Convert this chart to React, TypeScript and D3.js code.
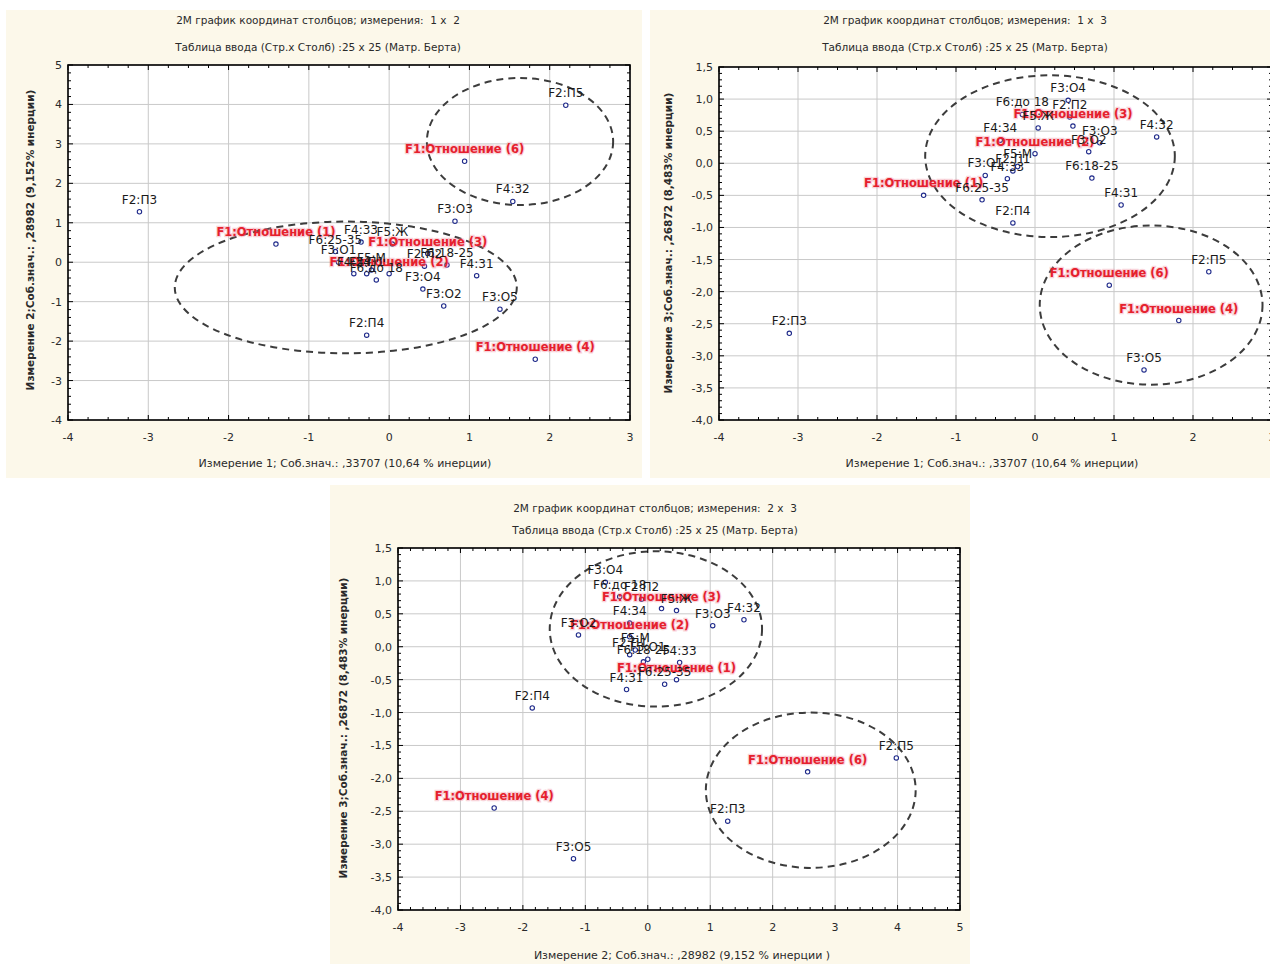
import React from "react";
import * as d3 from "d3";

// Column categories of the Burt table and their principal coordinates
const categories = [
  "F1:Отношение (1)", "F1:Отношение (2)", "F1:Отношение (3)", "F1:Отношение (4)", "F1:Отношение (6)",
  "F2:П1", "F2:П2", "F2:П3", "F2:П4", "F2:П5",
  "F3:О1", "F3:О2", "F3:О3", "F3:О4", "F3:О5",
  "F4:31", "F4:32", "F4:33", "F4:34",
  "F5:М", "F5:Ж",
  "F6:до 18", "F6:18-25", "F6:25-35",
];
const dim1 = [
  -1.41, 0.0, 0.48, 1.82, 0.94,
  -0.28, 0.44, -3.11, -0.28, 2.2,
  -0.63, 0.68, 0.82, 0.42, 1.38,
  1.09, 1.54, -0.35, -0.44,
  -0.22, 0.04,
  -0.16, 0.72, -0.67,
];
const dim2 = [
  0.46, -0.29, 0.22, -2.46, 2.56,
  -0.29, -0.1, 1.28, -1.85, 3.98,
  0.0, -1.11, 1.04, -0.68, -1.19,
  -0.34, 1.54, 0.51, -0.29,
  -0.2, 0.46,
  -0.45, -0.07, 0.27,
];
const dim3 = [
  -0.5, 0.15, 0.58, -2.45, -1.9,
  -0.12, 0.72, -2.65, -0.93, -1.69,
  -0.19, 0.18, 0.32, 0.98, -3.22,
  -0.65, 0.41, -0.24, 0.36,
  -0.05, 0.55,
  0.76, -0.23, -0.57,
];

const dims = { 1: dim1, 2: dim2, 3: dim3 } as Record<number, number[]>;

const tableTitle = "Таблица ввода (Стр.x Столб) :25 x 25 (Матр. Берта)";
const dimTitle1 = "Измерение 1; Соб.знач.: ,33707 (10,64 % инерции)";
const dimTitle2x = "Измерение 2; Соб.знач.: ,28982 (9,152 % инерции )";
const dimTitle2y = "Измерение 2;Соб.знач.: ,28982 (9,152% инерции)";
const dimTitle3y = "Измерение 3;Соб.знач.: ,26872 (8,483% инерции)";

type Ellipse = { cx: number; cy: number; rx: number; ry: number };
type Panel = {
  xDim: number;
  yDim: number;
  title: string;
  xTitle: string;
  yTitle: string;
  xDomain: [number, number];
  yDomain: [number, number];
  xStep: number;
  yStep: number;
  xMinor: number;
  yMinor: number;
  yDecimals: number;
  bg: { x: number; y: number; w: number; h: number };
  plot: { x0: number; y0: number; x1: number; y1: number };
  titleX: number;
  t1y: number;
  t2y: number;
  xTitleX: number;
  xTitleY: number;
  yTitleX: number;
  yTitleY: number;
  ellipses: Ellipse[];
};

const panels: Panel[] = [
  {
    xDim: 1, yDim: 2,
    title: "2M график координат столбцов; измерения:  1 x  2",
    xTitle: dimTitle1, yTitle: dimTitle2y,
    xDomain: [-4, 3], yDomain: [-4, 5], xStep: 1, yStep: 1, xMinor: 0.25, yMinor: 0.2, yDecimals: 0,
    bg: { x: 6, y: 10, w: 636, h: 468 },
    plot: { x0: 68, y0: 65, x1: 630, y1: 420 },
    titleX: 318, t1y: 24, t2y: 51, xTitleX: 345, xTitleY: 467, yTitleX: 30, yTitleY: 240,
    ellipses: [
      { cx: 1.63, cy: 3.06, rx: 1.16, ry: 1.61 },
      { cx: -0.54, cy: -0.64, rx: 2.13, ry: 1.67 },
    ],
  },
  {
    xDim: 1, yDim: 3,
    title: "2M график координат столбцов; измерения:  1 x  3",
    xTitle: dimTitle1, yTitle: dimTitle3y,
    xDomain: [-4, 3], yDomain: [-4, 1.5], xStep: 1, yStep: 0.5, xMinor: 0.25, yMinor: 0.1, yDecimals: 1,
    bg: { x: 650, y: 10, w: 620, h: 468 },
    plot: { x0: 719, y0: 67, x1: 1272, y1: 420 },
    titleX: 965, t1y: 24, t2y: 51, xTitleX: 992, xTitleY: 467, yTitleX: 668, yTitleY: 243,
    ellipses: [
      { cx: 0.19, cy: 0.11, rx: 1.58, ry: 1.26 },
      { cx: 1.47, cy: -2.21, rx: 1.41, ry: 1.24 },
    ],
  },
  {
    xDim: 2, yDim: 3,
    title: "2M график координат столбцов; измерения:  2 x  3",
    xTitle: dimTitle2x, yTitle: dimTitle3y,
    xDomain: [-4, 5], yDomain: [-4, 1.5], xStep: 1, yStep: 0.5, xMinor: 0.2, yMinor: 0.1, yDecimals: 1,
    bg: { x: 330, y: 485, w: 640, h: 479 },
    plot: { x0: 398, y0: 548, x1: 960, y1: 910 },
    titleX: 655, t1y: 512, t2y: 534, xTitleX: 682, xTitleY: 959, yTitleX: 343, yTitleY: 728,
    ellipses: [
      { cx: 0.13, cy: 0.27, rx: 1.7, ry: 1.18 },
      { cx: 2.61, cy: -2.18, rx: 1.68, ry: 1.18 },
    ],
  },
];

const FONT = "'DejaVu Sans', Verdana, sans-serif";
const CREAM = "#fcf8ea";

function fmt(v: number, decimals: number) {
  return d3.format(`.${decimals}f`)(v).replace(".", ",").replace("−", "-");
}

function ScatterPanel({ p, idx }: { p: Panel; idx: number }) {
  const x = d3.scaleLinear().domain(p.xDomain).range([p.plot.x0, p.plot.x1]);
  const y = d3.scaleLinear().domain(p.yDomain).range([p.plot.y1, p.plot.y0]);
  const eps = 1e-9;
  const xMajor = d3.range(p.xDomain[0], p.xDomain[1] + eps, p.xStep);
  const yMajor = d3.range(p.yDomain[0], p.yDomain[1] + eps, p.yStep);
  const xMinorT = d3.range(p.xDomain[0], p.xDomain[1] + eps, p.xMinor);
  const yMinorT = d3.range(p.yDomain[0], p.yDomain[1] + eps, p.yMinor);
  const xs = dims[p.xDim];
  const ys = dims[p.yDim];
  const { x0, y0, x1, y1 } = p.plot;
  const clipId = `clip-${idx}`;
  const isMajor = (v: number, step: number) => Math.abs(v / step - Math.round(v / step)) < 1e-6;

  return (
    <g>
      <rect x={p.bg.x} y={p.bg.y} width={p.bg.w} height={p.bg.h} fill={CREAM} />
      <text x={p.titleX} y={p.t1y} textAnchor="middle" fontSize={10.5} fill="#2a2a2a" style={{ whiteSpace: "pre" }}>
        {p.title}
      </text>
      <text x={p.titleX} y={p.t2y} textAnchor="middle" fontSize={10.5} fill="#2a2a2a" style={{ whiteSpace: "pre" }}>
        {tableTitle}
      </text>
      <defs>
        <clipPath id={clipId}>
          <rect x={x0} y={y0} width={x1 - x0} height={y1 - y0} />
        </clipPath>
      </defs>
      <rect x={x0} y={y0} width={x1 - x0} height={y1 - y0} fill="#fff" />
      {/* grid */}
      {xMajor.map((v) => (
        <line key={`gx${v}`} x1={x(v)} x2={x(v)} y1={y0} y2={y1} stroke="#c9c9c9" strokeWidth={1} />
      ))}
      {yMajor.map((v) => (
        <line key={`gy${v}`} x1={x0} x2={x1} y1={y(v)} y2={y(v)} stroke="#c9c9c9" strokeWidth={1} />
      ))}
      {/* group outlines */}
      <g clipPath={`url(#${clipId})`}>
        {p.ellipses.map((e, i) => (
          <ellipse
            key={`el${i}`}
            cx={x(e.cx)}
            cy={y(e.cy)}
            rx={Math.abs(x(e.cx + e.rx) - x(e.cx))}
            ry={Math.abs(y(e.cy + e.ry) - y(e.cy))}
            fill="none"
            stroke="#3c3c3c"
            strokeWidth={2}
            strokeDasharray="7 5"
          />
        ))}
      </g>
      {/* points */}
      {categories.map((c, i) => (
        <circle key={`pt${i}`} cx={x(xs[i])} cy={y(ys[i])} r={2.2} fill="#fff" stroke="#1f2a8a" strokeWidth={1.1} />
      ))}
      {/* labels */}
      {categories.map((c, i) => {
        const red = c.startsWith("F1");
        return (
          <text
            key={`lb${i}`}
            x={x(xs[i])}
            y={y(ys[i]) - 8}
            textAnchor="middle"
            fontSize={red ? 11.5 : 12}
            fontWeight={red ? "bold" : "normal"}
            fill={red ? "#e5202d" : "#1a1a1a"}
            stroke={red ? "rgba(240,130,150,0.35)" : "none"}
            strokeWidth={red ? 2.5 : 0}
            style={{ paintOrder: "stroke" }}
          >
            {c}
          </text>
        );
      })}
      {/* frame */}
      <rect x={x0} y={y0} width={x1 - x0} height={y1 - y0} fill="none" stroke="#000" strokeWidth={1.6} />
      {/* ticks on all four sides */}
      {xMinorT.map((v) => {
        const len = isMajor(v, p.xStep) ? 5 : 3;
        return (
          <g key={`tx${v}`}>
            <line x1={x(v)} x2={x(v)} y1={y1} y2={y1 - len} stroke="#000" strokeWidth={1} />
            <line x1={x(v)} x2={x(v)} y1={y0} y2={y0 + len} stroke="#000" strokeWidth={1} />
          </g>
        );
      })}
      {yMinorT.map((v) => {
        const len = isMajor(v, p.yStep) ? 5 : 3;
        return (
          <g key={`ty${v}`}>
            <line x1={x0} x2={x0 + len} y1={y(v)} y2={y(v)} stroke="#000" strokeWidth={1} />
            <line x1={x1} x2={x1 - len} y1={y(v)} y2={y(v)} stroke="#000" strokeWidth={1} />
          </g>
        );
      })}
      {/* tick labels */}
      {xMajor.map((v) => (
        <text key={`xl${v}`} x={x(v)} y={y1 + 21} textAnchor="middle" fontSize={11} fill="#2a2a2a">
          {fmt(v, 0)}
        </text>
      ))}
      {yMajor.map((v) => (
        <text key={`yl${v}`} x={x0 - 6} y={y(v) + 4} textAnchor="end" fontSize={11} fill="#2a2a2a">
          {fmt(v, p.yDecimals)}
        </text>
      ))}
      {/* axis titles */}
      <text x={p.xTitleX} y={p.xTitleY} textAnchor="middle" fontSize={11} fill="#2a2a2a" style={{ whiteSpace: "pre" }}>
        {p.xTitle}
      </text>
      <text
        transform={`translate(${p.yTitleX},${p.yTitleY}) rotate(-90)`}
        textAnchor="middle"
        fontSize={10.5}
        fontWeight="bold"
        fill="#2a2a2a"
        dy={4}
      >
        {p.yTitle}
      </text>
    </g>
  );
}

export default function App() {
  return (
    <svg
      width={1270}
      height={964}
      viewBox="0 0 1270 964"
      style={{ position: "absolute", left: 0, top: 0, background: "#fff", fontFamily: FONT }}
    >
      <rect x={0} y={0} width={1270} height={964} fill="#fff" />
      {panels.map((p, i) => (
        <ScatterPanel key={i} p={p} idx={i} />
      ))}
    </svg>
  );
}
